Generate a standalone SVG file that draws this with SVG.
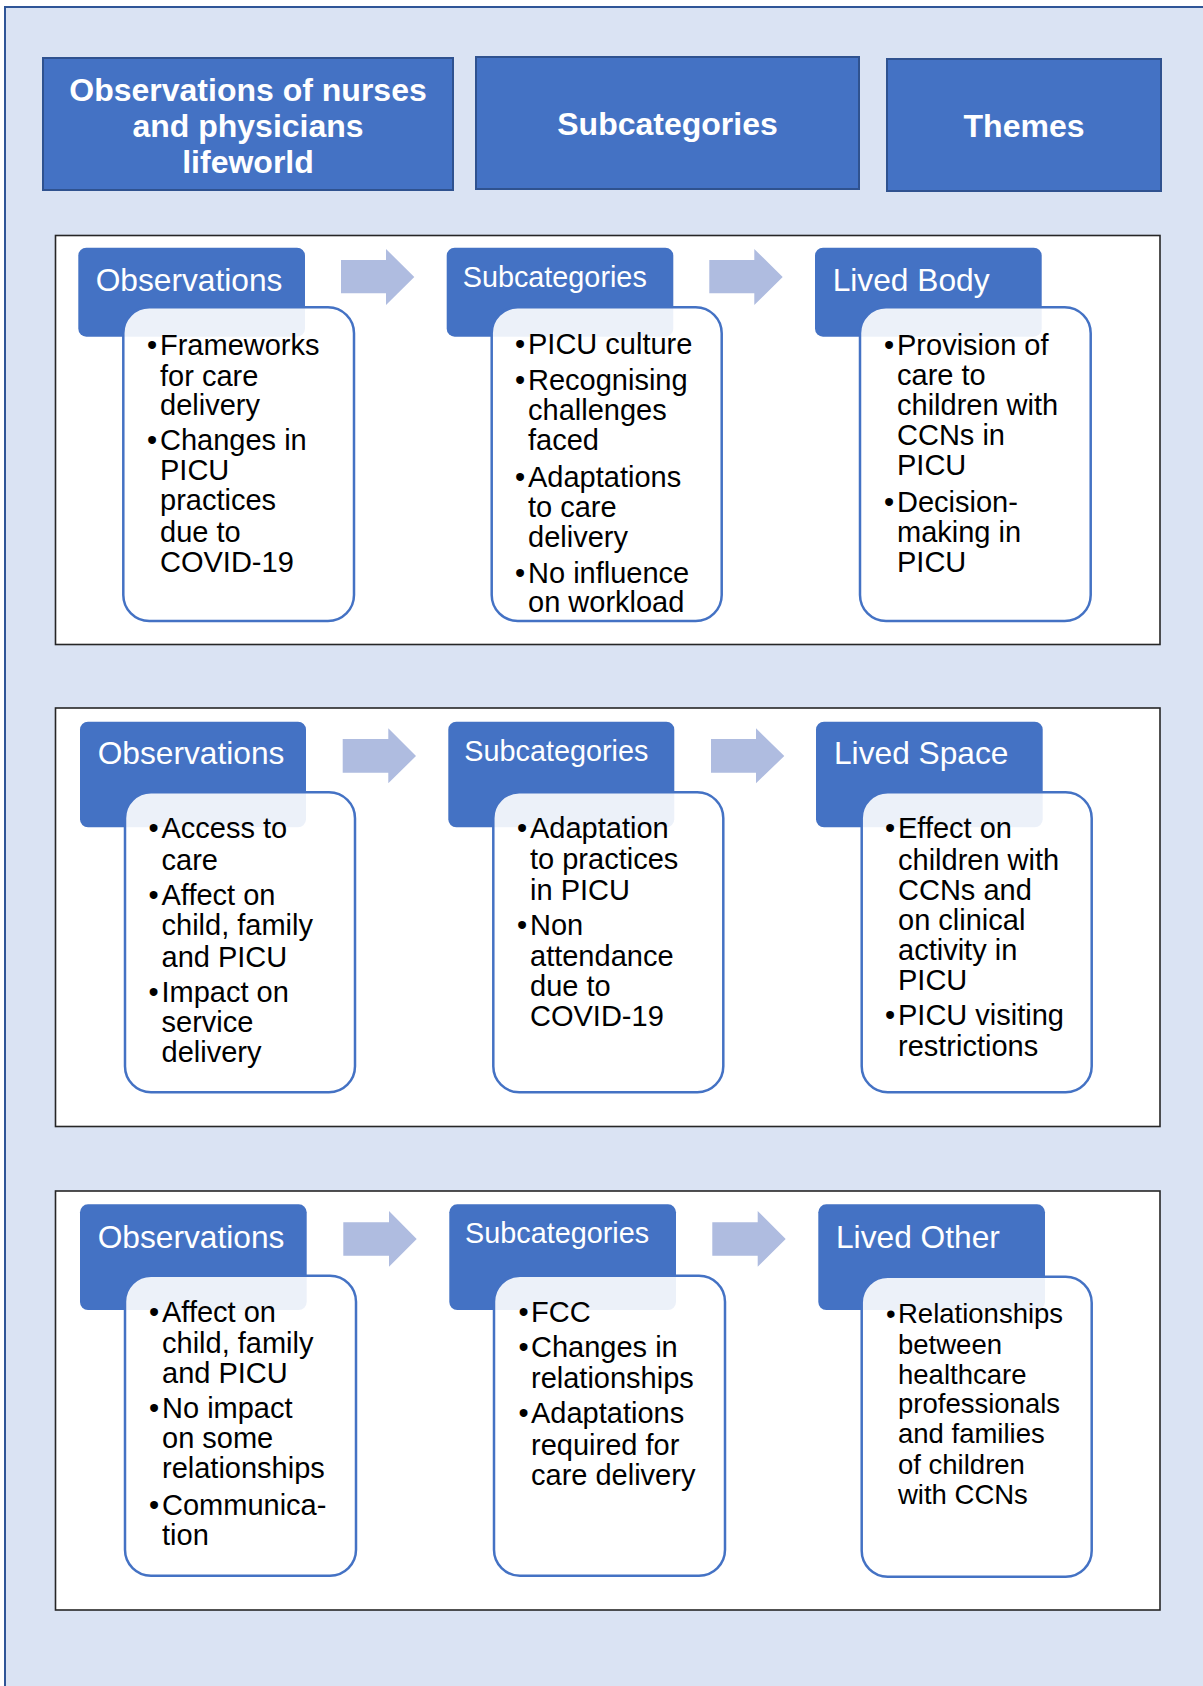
<svg xmlns="http://www.w3.org/2000/svg" width="1203" height="1686" viewBox="0 0 1203 1686">
<defs>
<style>
text{font-family:"Liberation Sans",Arial,sans-serif}
.top{fill:#4472C4;stroke:#2F528F;stroke-width:2}
.toptx{fill:#fff;font-weight:bold;font-size:32px;text-anchor:middle}
.panel{fill:#fff;stroke:#262626;stroke-width:1.6}
.hd{fill:#4472C4}
.hdtx{fill:#fff;font-size:31.7px}
.hdsub{fill:#fff;font-size:28.8px}
.body{fill:#fff;fill-opacity:0.9;stroke:#4472C4;stroke-width:2.5}
.bt{fill:#000;font-size:29px}
.bt2{fill:#000;font-size:27.5px}
.arr{fill:#AFBCE0}
</style>
</defs>
<rect x="0" y="0" width="1203" height="1686" fill="#fff"/>
<rect x="5" y="7" width="1300" height="1800" fill="#DAE3F3" stroke="#2F5597" stroke-width="2"/>

<g id="header-observations">
<rect class="top" x="43" y="58" width="410" height="132"/>
<text class="toptx" x="248" y="101">Observations of nurses</text>
<text class="toptx" x="248" y="137">and physicians</text>
<text class="toptx" x="248" y="173">lifeworld</text>
</g>
<g id="header-subcategories">
<rect class="top" x="476" y="57" width="383" height="132"/>
<text class="toptx" x="667.5" y="135">Subcategories</text>
</g>
<g id="header-themes">
<rect class="top" x="887" y="59" width="274" height="132"/>
<text class="toptx" x="1024" y="137">Themes</text>
</g>

<g id="panel1">
<rect class="panel" x="55.5" y="235.5" width="1104.5" height="409"/>
</g>
<g id="panel2">
<rect class="panel" x="55.5" y="708" width="1104.5" height="418.5"/>
</g>
<g id="panel3">
<rect class="panel" x="55.5" y="1191" width="1104.5" height="419"/>
</g>

<g id="connectors">
<polygon class="arr" points="341,260 386,260 386,249 414.3,277 386,305 386,293.3 341,293.3"/>
<polygon class="arr" points="709.3,260 754.3,260 754.3,249 782.7,277 754.3,305 754.3,293.3 709.3,293.3"/>
<polygon class="arr" points="342.7,739 388.3,739 388.3,728.3 416,756 388.3,783.3 388.3,772.7 342.7,772.7"/>
<polygon class="arr" points="711,739 756,739 756,728.3 784.3,756 756,783.3 756,772.7 711,772.7"/>
<polygon class="arr" points="343.3,1222.3 389,1222.3 389,1211 416.7,1239 389,1266.7 389,1255.7 343.3,1255.7"/>
<polygon class="arr" points="712.3,1222.3 757.7,1222.3 757.7,1211 785.7,1239 757.7,1266.7 757.7,1255.7 712.3,1255.7"/>
</g>

<!-- Panel 1 -->
<g id="p1-observations">
<rect class="hd" x="78.3" y="247.7" width="226.7" height="89" rx="8"/>
<text class="hdtx" x="95.7" y="290.7">Observations</text>
<rect class="body" x="123.3" y="307.3" width="230.7" height="313.7" rx="26"/>
<text class="bt" x="147" y="355">•</text><text class="bt" x="160" y="355">Frameworks</text>
<text class="bt" x="160" y="386">for care</text>
<text class="bt" x="160" y="415">delivery</text>
<text class="bt" x="147" y="450">•</text><text class="bt" x="160" y="450">Changes in</text>
<text class="bt" x="160" y="480">PICU</text>
<text class="bt" x="160" y="510">practices</text>
<text class="bt" x="160" y="541.5">due to</text>
<text class="bt" x="160" y="571.5">COVID-19</text>
</g>
<g id="p1-subcategories">
<rect class="hd" x="446.7" y="247.7" width="226.6" height="89" rx="8"/>
<text class="hdsub" x="462.7" y="287">Subcategories</text>
<rect class="body" x="491.7" y="307.3" width="230" height="313.7" rx="26"/>
<text class="bt" x="515" y="354">•</text><text class="bt" x="528" y="354">PICU culture</text>
<text class="bt" x="515" y="390">•</text><text class="bt" x="528" y="390">Recognising</text>
<text class="bt" x="528" y="420">challenges</text>
<text class="bt" x="528" y="450">faced</text>
<text class="bt" x="515" y="486.5">•</text><text class="bt" x="528" y="486.5">Adaptations</text>
<text class="bt" x="528" y="516.5">to care</text>
<text class="bt" x="528" y="546.5">delivery</text>
<text class="bt" x="515" y="582.5">•</text><text class="bt" x="528" y="582.5">No influence</text>
<text class="bt" x="528" y="611.5">on workload</text>
</g>
<g id="p1-lived-body">
<rect class="hd" x="815" y="247.7" width="226.7" height="89" rx="8"/>
<text class="hdtx" x="832.7" y="290.7">Lived Body</text>
<rect class="body" x="860" y="307.3" width="230.7" height="313.7" rx="26"/>
<text class="bt" x="884" y="355">•</text><text class="bt" x="897" y="355">Provision of</text>
<text class="bt" x="897" y="385">care to</text>
<text class="bt" x="897" y="415">children with</text>
<text class="bt" x="897" y="445">CCNs in</text>
<text class="bt" x="897" y="475">PICU</text>
<text class="bt" x="884" y="511.5">•</text><text class="bt" x="897" y="511.5">Decision-</text>
<text class="bt" x="897" y="541.5">making in</text>
<text class="bt" x="897" y="571.5">PICU</text>
</g>

<!-- Panel 2 -->
<g id="p2-observations">
<rect class="hd" x="80" y="721.7" width="226" height="105.6" rx="8"/>
<text class="hdtx" x="97.7" y="764">Observations</text>
<rect class="body" x="125" y="792.3" width="230" height="300" rx="26"/>
<text class="bt" x="148.5" y="838.3">•</text><text class="bt" x="161.5" y="838.3">Access to</text>
<text class="bt" x="161.5" y="870">care</text>
<text class="bt" x="148.5" y="905">•</text><text class="bt" x="161.5" y="905">Affect on</text>
<text class="bt" x="161.5" y="935">child, family</text>
<text class="bt" x="161.5" y="966.5">and PICU</text>
<text class="bt" x="148.5" y="1001.7">•</text><text class="bt" x="161.5" y="1001.7">Impact on</text>
<text class="bt" x="161.5" y="1032">service</text>
<text class="bt" x="161.5" y="1061.7">delivery</text>
</g>
<g id="p2-subcategories">
<rect class="hd" x="448.3" y="721.7" width="226" height="105.6" rx="8"/>
<text class="hdsub" x="464.3" y="760.7">Subcategories</text>
<rect class="body" x="493.3" y="792.3" width="230" height="300" rx="26"/>
<text class="bt" x="517" y="838.3">•</text><text class="bt" x="530" y="838.3">Adaptation</text>
<text class="bt" x="530" y="869.3">to practices</text>
<text class="bt" x="530" y="900">in PICU</text>
<text class="bt" x="517" y="935">•</text><text class="bt" x="530" y="935">Non</text>
<text class="bt" x="530" y="965.7">attendance</text>
<text class="bt" x="530" y="996">due to</text>
<text class="bt" x="530" y="1026">COVID-19</text>
</g>
<g id="p2-lived-space">
<rect class="hd" x="816" y="721.7" width="226.7" height="105.6" rx="8"/>
<text class="hdtx" x="834" y="764">Lived Space</text>
<rect class="body" x="861.7" y="792.3" width="230" height="300" rx="26"/>
<text class="bt" x="885" y="838.3">•</text><text class="bt" x="898" y="838.3">Effect on</text>
<text class="bt" x="898" y="870">children with</text>
<text class="bt" x="898" y="900">CCNs and</text>
<text class="bt" x="898" y="930">on clinical</text>
<text class="bt" x="898" y="960">activity in</text>
<text class="bt" x="898" y="990">PICU</text>
<text class="bt" x="885" y="1025">•</text><text class="bt" x="898" y="1025">PICU visiting</text>
<text class="bt" x="898" y="1056">restrictions</text>
</g>

<!-- Panel 3 -->
<g id="p3-observations">
<rect class="hd" x="80" y="1204.3" width="226.7" height="105.7" rx="8"/>
<text class="hdtx" x="97.7" y="1247.7">Observations</text>
<rect class="body" x="125" y="1275.7" width="231" height="300" rx="26"/>
<text class="bt" x="149" y="1321.7">•</text><text class="bt" x="162" y="1321.7">Affect on</text>
<text class="bt" x="162" y="1353.3">child, family</text>
<text class="bt" x="162" y="1383.3">and PICU</text>
<text class="bt" x="149" y="1418.3">•</text><text class="bt" x="162" y="1418.3">No impact</text>
<text class="bt" x="162" y="1448.3">on some</text>
<text class="bt" x="162" y="1478.3">relationships</text>
<text class="bt" x="149" y="1515">•</text><text class="bt" x="162" y="1515">Communica-</text>
<text class="bt" x="162" y="1545">tion</text>
</g>
<g id="p3-subcategories">
<rect class="hd" x="449.3" y="1204.3" width="226.7" height="105.7" rx="8"/>
<text class="hdsub" x="465" y="1243.3">Subcategories</text>
<rect class="body" x="494" y="1275.7" width="231" height="300" rx="26"/>
<text class="bt" x="518.5" y="1322.3">•</text><text class="bt" x="531" y="1322.3">FCC</text>
<text class="bt" x="518.5" y="1356.7">•</text><text class="bt" x="531" y="1356.7">Changes in</text>
<text class="bt" x="531" y="1388.3">relationships</text>
<text class="bt" x="518.5" y="1422.7">•</text><text class="bt" x="531" y="1422.7">Adaptations</text>
<text class="bt" x="531" y="1455">required for</text>
<text class="bt" x="531" y="1484.5">care delivery</text>
</g>
<g id="p3-lived-other">
<rect class="hd" x="818.3" y="1204.3" width="226.7" height="105.7" rx="8"/>
<text class="hdtx" x="836" y="1247.7">Lived Other</text>
<rect class="body" x="861.7" y="1276.7" width="230" height="300" rx="26"/>
<text class="bt2" x="886" y="1323.3">•</text><text class="bt2" x="898" y="1323.3">Relationships</text>
<text class="bt2" x="898" y="1354.3">between</text>
<text class="bt2" x="898" y="1384">healthcare</text>
<text class="bt2" x="898" y="1412.7">professionals</text>
<text class="bt2" x="898" y="1443.3">and families</text>
<text class="bt2" x="898" y="1474">of children</text>
<text class="bt2" x="898" y="1504">with CCNs</text>
</g>
</svg>
